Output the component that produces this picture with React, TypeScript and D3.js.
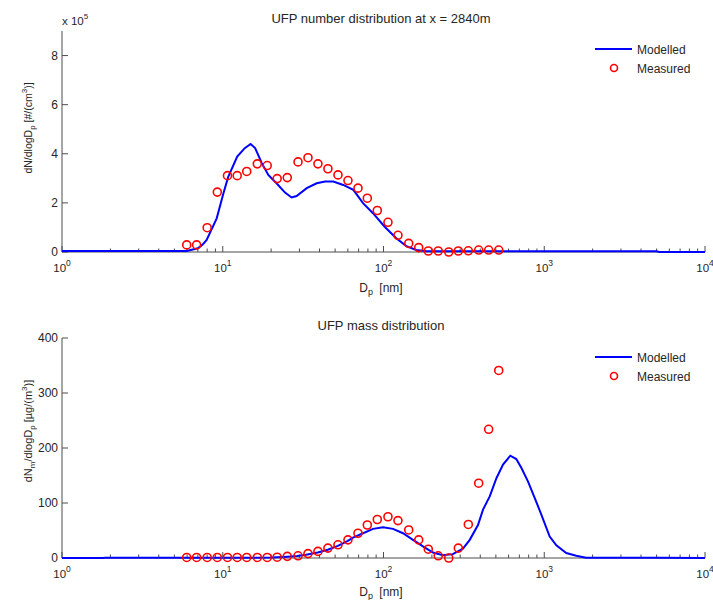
import React from "react";
import * as d3 from "d3";

// Measured bin diameters [nm] (shared by both panels)
const measuredD = [5.97, 6.88, 8.0, 9.25, 10.7, 12.3, 14.1, 16.4, 18.9, 21.8, 25.2, 29.4, 33.9, 39.1, 45.1, 52.1, 60.1, 69.4, 79.3, 91.5, 106.6, 123, 143.5, 165.6, 190, 219, 254.6, 292, 337, 391, 451, 521];
// Number distribution measured (x 1e5)
const measuredNumber = [0.29, 0.29, 0.99, 2.44, 3.11, 3.11, 3.28, 3.59, 3.52, 2.99, 3.03, 3.67, 3.84, 3.59, 3.39, 3.14, 2.91, 2.6, 2.19, 1.69, 1.21, 0.68, 0.35, 0.18, 0.04, 0.04, 0.0, 0.04, 0.05, 0.08, 0.08, 0.08];
// Mass distribution measured
const measuredMass = [1, 1, 1, 1, 1, 1, 1, 1, 1, 1.5, 3, 4, 8, 12, 18, 24, 33, 45, 60, 70, 75, 68, 51, 33, 16, 4, 0, 18, 61, 136, 234, 341];

// Modelled number distribution (x 1e5)
const modelNumberD = [1, 5.97, 7.0, 7.5, 7.94, 9.17, 10.1, 10.8, 12.3, 13.7, 14.9, 15.9, 17.5, 19.2, 21.6, 24.4, 26.8, 28.8, 33.3, 38.4, 43.3, 48.7, 56.2, 64.9, 74.6, 86, 101.7, 120, 138.7, 160, 184.6, 300, 5000, 5200, 10000];
const modelNumberV = [0.04, 0.04, 0.15, 0.3, 0.49, 1.37, 2.39, 3.05, 3.89, 4.23, 4.4, 4.23, 3.62, 3.14, 2.8, 2.42, 2.22, 2.28, 2.6, 2.8, 2.87, 2.87, 2.73, 2.53, 1.99, 1.58, 1.03, 0.56, 0.24, 0.08, 0.03, 0.03, 0.03, 0.0, 0.0];

// Modelled mass distribution
const modelMassD = [1, 1.8, 1.85, 15, 20, 24, 29, 33, 39, 45, 52, 60, 64.6, 74.6, 86.1, 99.3, 114.6, 132.2, 152.6, 176, 203, 234, 270, 312, 344, 387, 416, 458, 504, 554, 615, 670, 720, 793, 873, 959, 1081, 1189, 1371, 1582, 1820, 5000, 10000];
const modelMassV = [0, 0, 0.5, 0.5, 1, 2, 3.5, 6, 10, 15, 22, 31, 37, 45, 53, 56, 53, 45, 33, 21, 10, 5, 7, 17, 33, 60, 88, 112, 145, 170, 186, 180, 164, 139, 109, 79, 39, 23, 9, 4, 0.5, 0.5, 0];

const xTickExps = [0, 1, 2, 3, 4];
const numberYTicks = [0, 2, 4, 6, 8];
const massYTicks = [0, 100, 200, 300, 400];

const FONT = "'Liberation Sans', Arial, Helvetica, sans-serif";
const BLUE = "#0000ff";
const RED = "#ff0000";
const AXIS = "#4d4d4d";
const TEXT = "#262626";

type PanelProps = {
  top: number;
  bottom: number;
  yMax: number;
  yTicks: number[];
  modelD: number[];
  modelV: number[];
  measV: number[];
  title: string;
  titleY: number;
  tickLabelY: number;
  xLabelY: number;
  yLabelCenter: number;
  yLabelSize: number;
  yLabel: React.ReactNode;
  legendY: number;
  multiplier?: boolean;
};

const x = d3.scaleLog().domain([1, 1e4]).range([62, 705]);

function Panel(p: PanelProps) {
  const y = d3.scaleLinear().domain([0, p.yMax]).range([p.bottom, p.top]);
  const line = d3
    .line<number>()
    .x((_, i) => x(p.modelD[i]))
    .y((v) => y(v));
  const minor: number[] = [];
  for (let e = 0; e < 4; e++) for (let m = 2; m <= 9; m++) minor.push(m * Math.pow(10, e));
  const x0 = x.range()[0];
  const x1 = x.range()[1];
  return (
    <g>
      <text x={381} y={p.titleY} textAnchor="middle" fontSize={13} fill={TEXT}>
        {p.title}
      </text>
      {p.multiplier && (
        <text x={62} y={25} fontSize={11.5} fill={TEXT}>
          x 10<tspan dy={-6} fontSize={8}>5</tspan>
        </text>
      )}
      {/* axes */}
      <line x1={x0} x2={x1} y1={p.bottom} y2={p.bottom} stroke={AXIS} strokeWidth={1} />
      <line x1={x0} x2={x0} y1={p.top} y2={p.bottom} stroke={AXIS} strokeWidth={1} />
      {xTickExps.map((e) => (
        <g key={"xt" + e}>
          <line x1={x(Math.pow(10, e))} x2={x(Math.pow(10, e))} y1={p.bottom} y2={p.bottom - 6} stroke={AXIS} />
          <text x={x(Math.pow(10, e))} y={p.tickLabelY} textAnchor="middle" fontSize={11.5} fill={TEXT}>
            10<tspan dy={-6} fontSize={8.5}>{e}</tspan>
          </text>
        </g>
      ))}
      {minor.map((m) => (
        <line key={"mn" + m} x1={x(m)} x2={x(m)} y1={p.bottom} y2={p.bottom - 3.5} stroke={AXIS} />
      ))}
      {p.yTicks.map((t) => (
        <g key={"yt" + t}>
          <line x1={x0} x2={x0 + 6} y1={y(t)} y2={y(t)} stroke={AXIS} />
          <text x={58} y={y(t)} dy="0.36em" textAnchor="end" fontSize={12} fill={TEXT}>
            {t}
          </text>
        </g>
      ))}
      <text x={381} y={p.xLabelY} textAnchor="middle" fontSize={12} fill={TEXT}>
        D<tspan dy={3} fontSize={9}>p</tspan>
        <tspan dy={-3} dx={3}> [nm]</tspan>
      </text>
      <text
        transform={`translate(32,${p.yLabelCenter}) rotate(-90)`}
        textAnchor="middle"
        fontSize={p.yLabelSize}
        fill={TEXT}
      >
        {p.yLabel}
      </text>
      {/* data */}
      <path d={line(p.modelV) || ""} fill="none" stroke={BLUE} strokeWidth={2} />
      {p.measV.map((v, i) => (
        <circle key={"m" + i} cx={x(measuredD[i])} cy={y(v)} r={4} fill="none" stroke={RED} strokeWidth={1.6} />
      ))}
      {/* legend */}
      <line x1={595} x2={632} y1={p.legendY} y2={p.legendY} stroke={BLUE} strokeWidth={2} />
      <text x={637} y={p.legendY + 4.5} fontSize={12} fill={TEXT}>
        Modelled
      </text>
      <circle cx={614} cy={p.legendY + 19} r={3.5} fill="none" stroke={RED} strokeWidth={1.6} />
      <text x={637} y={p.legendY + 23.5} fontSize={12} fill={TEXT}>
        Measured
      </text>
    </g>
  );
}

export default function App() {
  return (
    <svg
      width={713}
      height={600}
      style={{ position: "absolute", left: 0, top: 0, background: "#fff", fontFamily: FONT }}
    >
      <rect width={713} height={600} fill="#fff" />
      <Panel
        top={31}
        bottom={252}
        yMax={9}
        yTicks={numberYTicks}
        modelD={modelNumberD}
        modelV={modelNumberV}
        measV={measuredNumber}
        title="UFP number distribution at x = 2840m"
        titleY={23}
        tickLabelY={272}
        xLabelY={292}
        yLabelCenter={128}
        yLabelSize={10.5}
        legendY={49}
        multiplier
        yLabel={
          <>
            dN/dlogD<tspan dy={3} fontSize={8}>p</tspan>
            <tspan dy={-3}> [#/(cm</tspan>
            <tspan dy={-5} fontSize={8}>3</tspan>
            <tspan dy={5}>)]</tspan>
          </>
        }
      />
      <Panel
        top={338}
        bottom={558}
        yMax={400}
        yTicks={massYTicks}
        modelD={modelMassD}
        modelV={modelMassV}
        measV={measuredMass}
        title="UFP mass distribution"
        titleY={330}
        tickLabelY={578}
        xLabelY={596}
        yLabelCenter={431}
        yLabelSize={11}
        legendY={357}
        yLabel={
          <>
            dN<tspan dy={3} fontSize={8}>m</tspan>
            <tspan dy={-3}>/dlogD</tspan>
            <tspan dy={3} fontSize={8}>p</tspan>
            <tspan dy={-3}> [µg/(m</tspan>
            <tspan dy={-5} fontSize={8}>3</tspan>
            <tspan dy={5}>)]</tspan>
          </>
        }
      />
    </svg>
  );
}
